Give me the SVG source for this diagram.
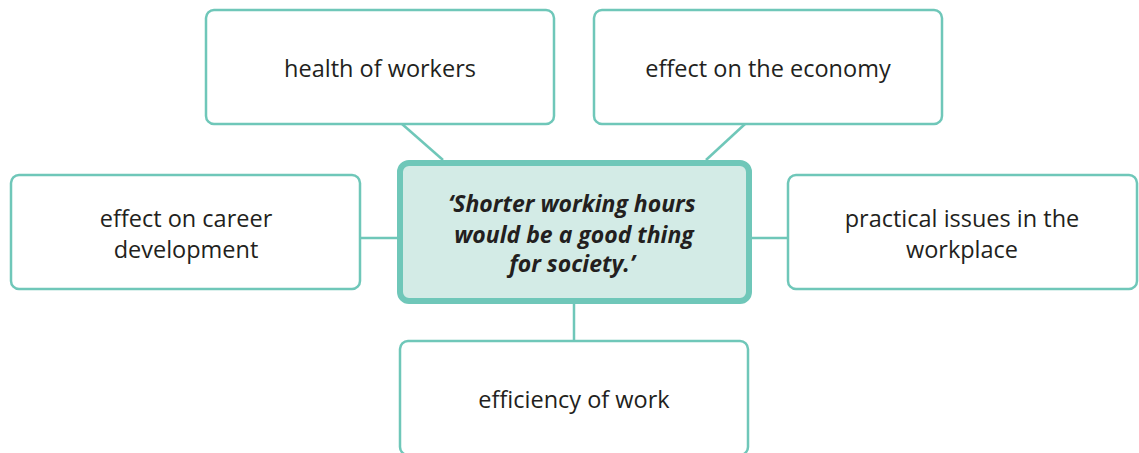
<svg xmlns="http://www.w3.org/2000/svg" width="1139" height="453" viewBox="0 0 1139 453">
<style>
.box{fill:#ffffff;stroke:#6fc7b9;stroke-width:2.5}
.main{fill:#d3ebe6;stroke:#6fc7b9;stroke-width:6}
.conn{stroke:#6fc7b9;stroke-width:2.5;fill:none}
.t{font-family:"Open Sans","Noto Sans",sans-serif;font-size:23.5px;fill:#231f20;text-anchor:middle}
.tb{font-family:"Open Sans","Noto Sans",sans-serif;font-size:23px;font-weight:bold;font-style:italic;fill:#231f20;text-anchor:middle}
</style>
<rect width="1139" height="453" fill="#ffffff"/>
<g id="connectors">
<line class="conn" x1="402" y1="124" x2="443" y2="160"/>
<line class="conn" x1="745" y1="124" x2="706" y2="160"/>
<line class="conn" x1="361" y1="238" x2="398" y2="238"/>
<line class="conn" x1="751" y1="238" x2="788" y2="238"/>
<line class="conn" x1="574" y1="303" x2="574" y2="341"/>
</g>
<g id="health">
<rect class="box" x="206" y="10" width="348" height="114" rx="8"/>
<text class="t" x="380" y="77">health of workers</text>
</g>
<g id="economy">
<rect class="box" x="594" y="10" width="348" height="114" rx="8"/>
<text class="t" x="768" y="77">effect on the economy</text>
</g>
<g id="career">
<rect class="box" x="11" y="175" width="349" height="114" rx="8"/>
<text class="t" x="186" y="227">effect on career</text>
<text class="t" x="186" y="258">development</text>
</g>
<g id="practical">
<rect class="box" x="788" y="175" width="349" height="114" rx="8"/>
<text class="t" x="962" y="227">practical issues in the</text>
<text class="t" x="962" y="258">workplace</text>
</g>
<g id="efficiency">
<rect class="box" x="400" y="341" width="348" height="114" rx="8"/>
<text class="t" x="574" y="408">efficiency of work</text>
</g>
<g id="center">
<rect class="main" x="400" y="163" width="349" height="138" rx="9"/>
<text class="tb" x="572" y="212">‘Shorter working hours</text>
<text class="tb" x="574" y="243">would be a good thing</text>
<text class="tb" x="572" y="272">for society.’</text>
</g>
</svg>
